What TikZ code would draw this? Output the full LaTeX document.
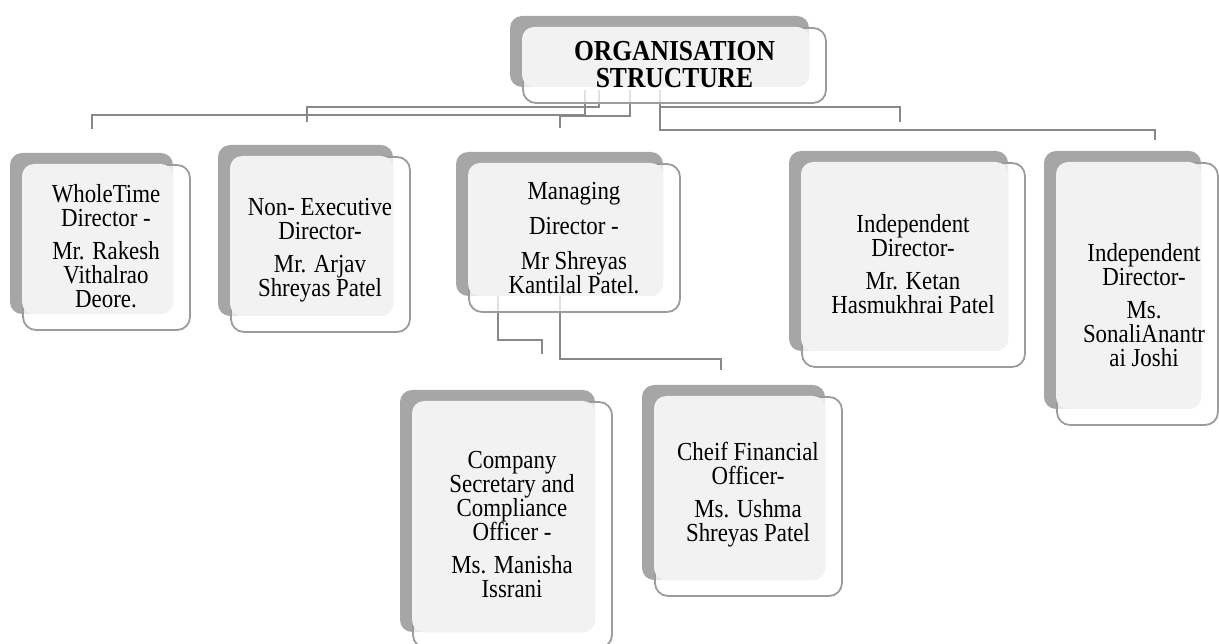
\documentclass[tikz,border=0pt]{standalone}
\usepackage{fontspec}
\setmainfont{Liberation Serif}[FakeStretch=0.88]
\usepackage{tikz}
\definecolor{shadowgray}{HTML}{A6A6A6}
\definecolor{fillgray}{HTML}{F2F2F2}
\definecolor{edgegray}{HTML}{9C9C9C}
\definecolor{linegray}{HTML}{888888}

\begin{document}
\begin{tikzpicture}[x=1pt, y=-1pt,
		back box/.style={fill=shadowgray, rounded corners=12pt},
		front box/.style={draw=edgegray, line width=1.8pt, fill=white, fill opacity=0.75, draw opacity=1, rounded corners=13pt},
		light box/.style={fill=fillgray, rounded corners=12pt},
		box text/.style={align=center, inner sep=0pt, font=\fontsize{26}{24}\selectfont},
		conn/.style={draw=linegray, line width=2.4pt}]
		
		\useasboundingbox (0,0) rectangle (1219,644);
		
		% connectors
		\coordinate (t1) at (585,90);  \coordinate (e1) at (92,129);
		\coordinate (t2) at (599,90);  \coordinate (e2) at (307,122);
		\coordinate (t3) at (630,90);  \coordinate (e3) at (560,128);
		\coordinate (t4) at (660,90);  \coordinate (e4) at (900,122);
		\coordinate (t5) at (660,90);  \coordinate (e5) at (1155,140);
		\coordinate (m1) at (498,296); \coordinate (e6) at (542,354);
		\coordinate (m2) at (560,296); \coordinate (e7) at (721,370);
		
		\draw[conn] (t1) -- ++(0,25) -| (e1);
		\draw[conn] (t2) -- ++(0,17) -| (e2);
		\draw[conn] (t3) -- ++(0,26) -| (e3);
		\draw[conn] (t4) -- ++(0,17) -| (e4);
		\draw[conn] (t5) -- ++(0,40) -| (e5);
		\draw[conn] (m1) -- ++(0,44) -| (e6);
		\draw[conn] (m2) -- ++(0,63) -| (e7);
		
		% title
		\fill[back box] (510,16) rectangle (809,87);
		\draw[front box] (523,28) rectangle (826,103);
		\fill[light box] (522,27) rectangle (809,87);
		\node[box text, font=\fontsize{29}{27}\selectfont\bfseries] (title) at (674.5,65) {ORGANISATION\\STRUCTURE};
		
		% whole time director
		\fill[back box] (10,153) rectangle (173,314);
		\draw[front box] (23,165) rectangle (190,330);
		\fill[light box] (22,164) rectangle (173,314);
		\node[box text] (wtd) at (106,246) {WholeTime\\Director -\\[9pt]Mr. Rakesh\\Vithalrao\\Deore.};
		
		% non executive director
		\fill[back box] (218,145) rectangle (393,316);
		\draw[front box] (231,157) rectangle (410,332);
		\fill[light box] (230,156) rectangle (393,316);
		\node[box text] (ned) at (320,250) {Non- Executive\\Director-\\[9pt]Mr. Arjav\\Shreyas Patel};
		
		% managing director
		\fill[back box] (456,152) rectangle (663,296);
		\draw[front box] (469,164) rectangle (680,312);
		\fill[light box] (468,163) rectangle (663,296);
		\node[box text] (md) at (574,238) {Managing\\[11pt]Director -\\[11pt]Mr Shreyas\\Kantilal Patel.};
		
		% independent director 1
		\fill[back box] (789,151) rectangle (1008,351);
		\draw[front box] (802,163) rectangle (1025,367);
		\fill[light box] (801,162) rectangle (1008,351);
		\node[box text] (id1) at (913,264) {Independent\\Director-\\[9pt]Mr. Ketan\\Hasmukhrai Patel};
		
		% independent director 2
		\fill[back box] (1044,151) rectangle (1201,409);
		\draw[front box] (1057,163) rectangle (1218,425);
		\fill[light box] (1056,162) rectangle (1201,409);
		\node[box text] (id2) at (1144,305) {Independent\\Director-\\[9pt]Ms.\\SonaliAnantr\\ai Joshi};
		
		% company secretary
		\fill[back box] (400,390) rectangle (595,632);
		\draw[front box] (413,402) rectangle (612,648);
		\fill[light box] (412,401) rectangle (595,632);
		\node[box text] (cs) at (512,525) {Company\\Secretary and\\Compliance\\Officer -\\[9pt]Ms. Manisha\\Issrani};
		
		% chief financial officer
		\fill[back box] (642,385) rectangle (825,580);
		\draw[front box] (655,397) rectangle (842,596);
		\fill[light box] (654,396) rectangle (825,580);
		\node[box text] (cfo) at (748,495) {Cheif Financial\\Officer-\\[9pt]Ms. Ushma\\Shreyas Patel};
		\end{tikzpicture}
\end{document}
